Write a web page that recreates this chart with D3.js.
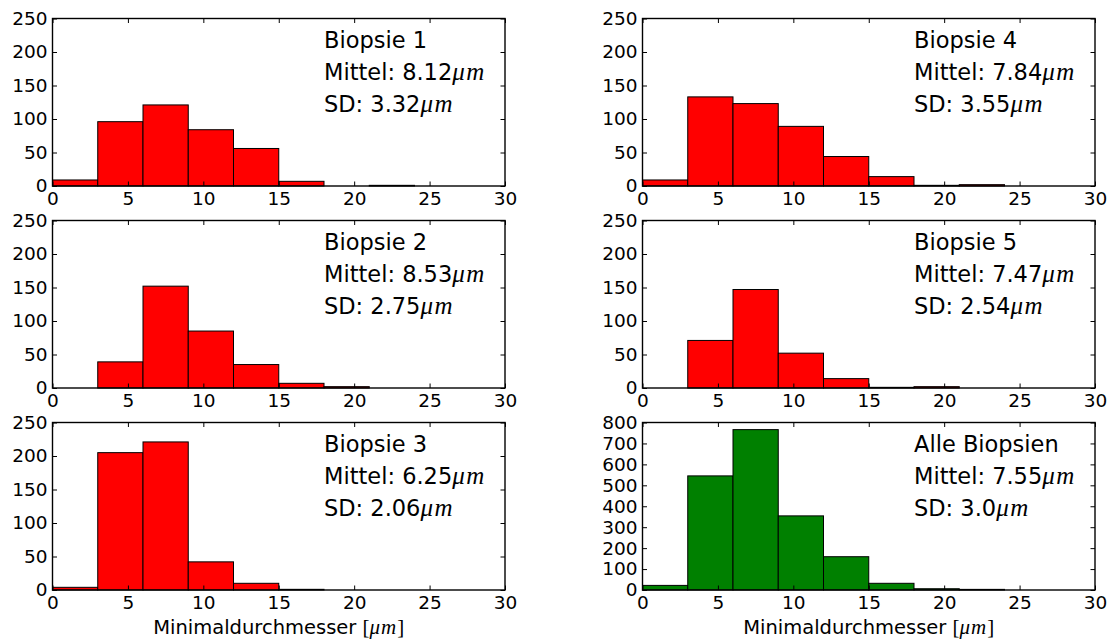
<!DOCTYPE html>
<html>
<head>
<meta charset="utf-8">
<script src="https://cdn.jsdelivr.net/npm/d3@7"></script>
<style>
  body { margin: 0; background: #fff; }
  svg { display: block; }
  .tick text { font-family: "DejaVu Sans", sans-serif; font-size: 18.5px; fill: #000; }
  .tick line { stroke: #000; stroke-width: 1; }
  .domain { display: none; }
</style>
</head>
<body>
<script>
// bin edges of the histograms (micrometer)
var binEdges = [0, 3, 6, 9, 12, 15, 18, 21, 24, 27, 30];
var xTicks = [0, 5, 10, 15, 20, 25, 30];

// counts per bin
var biopsie1 = [9, 96, 121, 84, 56, 7, 0, 1, 0, 0];
var biopsie2 = [0, 39, 152, 85, 35, 7, 2, 0, 0, 0];
var biopsie3 = [4, 205, 221, 42, 10, 1, 0, 0, 0, 0];
var biopsie4 = [9, 133, 123, 89, 44, 14, 1, 2, 0, 0];
var biopsie5 = [0, 71, 147, 52, 14, 1, 2, 0, 0, 0];
var alleBiopsien = [22, 545, 766, 354, 159, 32, 6, 3, 0, 0];

var titles = ["Biopsie 1", "Biopsie 2", "Biopsie 3", "Biopsie 4", "Biopsie 5", "Alle Biopsien"];
var means = ["8.12", "8.53", "6.25", "7.84", "7.47", "7.55"];
var sds = ["3.32", "2.75", "2.06", "3.55", "2.54", "3.0"];
var yMaxes = [250, 250, 250, 250, 250, 800];
var yTickSteps = [50, 50, 50, 50, 50, 100];
var counts = [biopsie1, biopsie2, biopsie3, biopsie4, biopsie5, alleBiopsien];

var width = 1113, height = 643;
var colLeft = [52.5, 642.5], axW = 452.5;
var rowTop = [18.5, 220.5, 422.5], axH = 167.5;

var svg = d3.select("body").append("svg")
    .attr("width", width)
    .attr("height", height);

counts.forEach(function (data, i) {
    var col = Math.floor(i / 3), row = i % 3;
    var x0 = colLeft[col], y0 = rowTop[row];
    var barColor = i === 5 ? "#008000" : "#ff0000";

    var x = d3.scaleLinear().domain([0, 30]).range([0, axW]);
    var y = d3.scaleLinear().domain([0, yMaxes[i]]).range([axH, 0]);
    var yTicks = d3.range(0, yMaxes[i] + 1, yTickSteps[i]);

    var g = svg.append("g").attr("transform", "translate(" + x0 + "," + y0 + ")");

    var bins = data.map(function (c, k) {
        return { x0: binEdges[k], x1: binEdges[k + 1], count: c };
    });

    g.selectAll("rect.bar")
        .data(bins)
        .enter()
        .append("rect")
        .attr("class", "bar")
        .attr("x", function (d) { return x(d.x0); })
        .attr("y", function (d) { return y(d.count); })
        .attr("width", function (d) { return x(d.x1) - x(d.x0); })
        .attr("height", function (d) { return axH - y(d.count); })
        .attr("fill", barColor)
        .attr("stroke", "#000")
        .attr("stroke-width", 1);

    // inward ticks on all four sides
    g.append("g")
        .attr("transform", "translate(0," + axH + ")")
        .call(d3.axisBottom(x).tickValues(xTicks).tickSizeInner(-4.5).tickSizeOuter(0).tickPadding(5.5)
            .tickFormat(d3.format("d")));
    g.append("g")
        .call(d3.axisTop(x).tickValues(xTicks).tickSizeInner(-4.5).tickSizeOuter(0).tickFormat(""));
    g.append("g")
        .call(d3.axisLeft(y).tickValues(yTicks).tickSizeInner(-4.5).tickSizeOuter(0).tickPadding(5)
            .tickFormat(d3.format("d")));
    g.append("g")
        .attr("transform", "translate(" + axW + ",0)")
        .call(d3.axisRight(y).tickValues(yTicks).tickSizeInner(-4.5).tickSizeOuter(0).tickFormat(""));

    g.append("rect")
        .attr("width", axW)
        .attr("height", axH)
        .attr("fill", "none")
        .attr("stroke", "#000")
        .attr("stroke-width", 1.4);

    // stats text
    var tx = x(18);
    var lines = [
        { t: titles[i], unit: false },
        { t: "Mittel: " + means[i], unit: true },
        { t: "SD: " + sds[i], unit: true }
    ];
    lines.forEach(function (l, k) {
        var txt = g.append("text")
            .attr("x", tx)
            .attr("y", 29.5 + k * 32)
            .attr("font-family", "DejaVu Sans, sans-serif")
            .attr("font-size", 22.5)
            .attr("fill", "#000")
            .text(l.t);
        if (l.unit) {
            txt.append("tspan")
                .attr("font-family", "Liberation Serif, serif")
                .attr("font-style", "italic")
                .attr("font-size", 25)
                .attr("letter-spacing", 1.5)
                .text("\u03bcm");
        }
    });

    if (row === 2) {
        var lab = g.append("text")
            .attr("x", axW / 2)
            .attr("y", axH + 44)
            .attr("text-anchor", "middle")
            .attr("font-family", "DejaVu Sans, sans-serif")
            .attr("font-size", 19.5)
            .attr("fill", "#000")
            .text("Minimaldurchmesser ");
        lab.append("tspan")
            .attr("font-family", "Liberation Serif, serif")
            .attr("font-size", 21)
            .text("[");
        lab.append("tspan")
            .attr("font-family", "Liberation Serif, serif")
            .attr("font-style", "italic")
            .attr("font-size", 21)
            .attr("letter-spacing", 1)
            .text("\u03bcm");
        lab.append("tspan")
            .attr("font-family", "Liberation Serif, serif")
            .attr("font-size", 21)
            .text("]");
    }
});
</script>
</body>
</html>
